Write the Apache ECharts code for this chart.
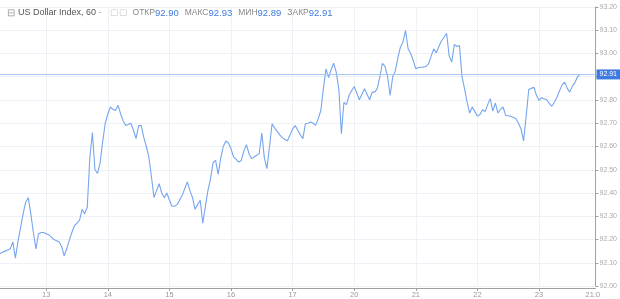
<!DOCTYPE html>
<html>
<head>
<meta charset="utf-8">
<script src="https://cdn.jsdelivr.net/npm/echarts@6/dist/echarts.min.js"></script>
<style>html,body{margin:0;padding:0;background:#fff}#c{width:620px;height:299px}</style>
</head>
<body>
<div id="c"></div>
<script>
// Trading days shown (first day partial, starting 06:00)
const days = ['12','13','14','15','16','17','20','21','22','23'];
const firstHour = 6;
const categoryCount = 233;
// Hourly close values, US Dollar Index (60 min)
const values = [
92.14,92.145,92.15,92.155,92.16,92.19,92.12,92.19,92.25,92.31,
92.36,92.38,92.31,92.23,92.16,92.225,92.23,92.23,92.225,92.22,
92.21,92.20,92.195,92.19,92.17,92.13,92.16,92.197,92.23,92.26,
92.27,92.283,92.33,92.31,92.34,92.55,92.66,92.50,92.484,92.53,
92.62,92.70,92.74,92.77,92.76,92.755,92.777,92.74,92.71,92.69,
92.695,92.70,92.67,92.634,92.69,92.69,92.64,92.60,92.555,92.47,
92.38,92.41,92.44,92.40,92.38,92.40,92.37,92.343,92.343,92.35,
92.37,92.39,92.42,92.448,92.41,92.38,92.33,92.35,92.369,92.27,
92.34,92.41,92.46,92.53,92.54,92.48,92.55,92.60,92.624,92.615,
92.59,92.555,92.545,92.533,92.54,92.58,92.608,92.57,92.548,92.555,
92.562,92.57,92.658,92.55,92.505,92.60,92.698,92.68,92.665,92.65,
92.638,92.63,92.625,92.65,92.675,92.69,92.67,92.65,92.634,92.698,
92.70,92.705,92.70,92.691,92.72,92.755,92.85,92.934,92.896,92.93,
92.958,92.92,92.848,92.655,92.79,92.78,92.82,92.84,92.858,92.83,
92.801,92.825,92.848,92.825,92.801,92.834,92.834,92.85,92.90,92.958,
92.945,92.90,92.82,92.90,92.925,92.98,93.027,93.05,93.099,93.02,
93.00,92.97,92.934,92.94,92.941,92.941,92.945,92.956,92.99,93.02,
93.003,93.03,93.055,93.07,93.087,92.99,92.963,93.039,93.03,93.034,
92.90,92.848,92.79,92.744,92.77,92.75,92.731,92.738,92.758,92.75,
92.78,92.806,92.752,92.787,92.744,92.76,92.77,92.734,92.732,92.73,
92.725,92.72,92.70,92.675,92.624,92.73,92.845,92.85,92.855,92.82,
92.798,92.81,92.805,92.801,92.785,92.773,92.79,92.812,92.84,92.865,
92.877,92.85,92.834,92.86,92.875,92.90,92.91
];
const ohlcLabels = ['ОТКР','МАКС','МИН','ЗАКР'];
const ohlcValues = [92.90, 92.93, 92.89, 92.91];
const seriesTitle = 'US Dollar Index, 60';
const yTicks = {min: 92.0, max: 93.2, interval: 0.1};
const cornerTimeLabel = '21:0';

// build hourly categories
const categories = [];
{
  let d = 0, h = firstHour;
  for (let i = 0; i < categoryCount; i++) {
    categories.push(days[d] + ' ' + String(h).padStart(2,'0') + ':00');
    h++;
    if (h === 24) { h = 0; d = Math.min(d + 1, days.length - 1); }
  }
}
const lastValue = values[values.length - 1];
const isDayStart = (v) => v.endsWith(' 00:00');

const chart = echarts.init(document.getElementById('c'), null, {renderer: 'canvas'});

const base = {fontFamily: 'Liberation Sans', fontWeight: 'normal'};
const rich = {
  b: Object.assign({color: '#999', fontSize: 10, padding: [0, 3, 0, 0]}, base),
  g: Object.assign({color: '#555', fontSize: 9}, base),
  i: Object.assign({color: '#c4c4c4', fontSize: 9, padding: [0, 5, 0, 8]}, base),
  k: Object.assign({color: '#888', fontSize: 8.5}, base),
  v: Object.assign({color: '#3d7be0', fontSize: 9.5, padding: [0, 6, 0, 0]}, base)
};
let titleText = '{b|⊟}{g|' + seriesTitle + ' ·}{i|▢▢}';
ohlcLabels.forEach((l, i) => { titleText += '{k|' + l + '}{v|' + ohlcValues[i].toFixed(2) + '}'; });

chart.setOption({
  animation: false,
  backgroundColor: '#fff',
  title: {
    text: titleText,
    left: 2, top: 3,
    textStyle: {rich: rich, fontWeight: 'normal'}
  },
  grid: {left: 0, right: 23, top: 7, bottom: 13},
  xAxis: {
    type: 'category',
    data: categories,
    boundaryGap: false,
    offset: 2,
    axisLine: {lineStyle: {color: '#a0a0a0'}},
    axisTick: {
      length: 3,
      interval: (i, v) => isDayStart(v),
      lineStyle: {color: '#a0a0a0'}
    },
    axisLabel: {
      interval: (i, v) => isDayStart(v) || i === categoryCount - 2,
      formatter: (v, i) => isDayStart(v) ? v.split(' ')[0] : cornerTimeLabel,
      color: '#999', fontSize: 7.5, margin: 3,
      fontFamily: 'Liberation Sans'
    },
    splitLine: {
      show: true,
      interval: (i, v) => isDayStart(v),
      lineStyle: {color: '#eef1f6'}
    }
  },
  yAxis: {
    type: 'value',
    position: 'right',
    min: yTicks.min, max: yTicks.max, interval: yTicks.interval,
    axisLine: {show: true, lineStyle: {color: '#a0a0a0'}},
    axisTick: {show: true, length: 3, lineStyle: {color: '#a0a0a0'}},
    axisLabel: {
      formatter: (v) => v.toFixed(2),
      color: '#aaa', fontSize: 7, margin: 4,
      fontFamily: 'Liberation Sans'
    },
    splitLine: {lineStyle: {color: '#eef1f6'}}
  },
  series: [{
    type: 'line',
    data: values,
    showSymbol: false,
    lineStyle: {color: '#76a5ef', width: 1.1},
    z: 3,
    markLine: {
      silent: true,
      symbol: 'none',
      data: [{yAxis: lastValue}],
      lineStyle: {color: '#a9c6f3', width: 1, type: 'solid'},
      label: {
        position: 'end',
        distance: 1,
        formatter: () => lastValue.toFixed(2),
        color: '#fff', backgroundColor: '#3d7be0',
        fontSize: 7, fontFamily: 'Liberation Sans',
        padding: [2, 3, 1, 3]
      }
    }
  }]
});
</script>
</body>
</html>
